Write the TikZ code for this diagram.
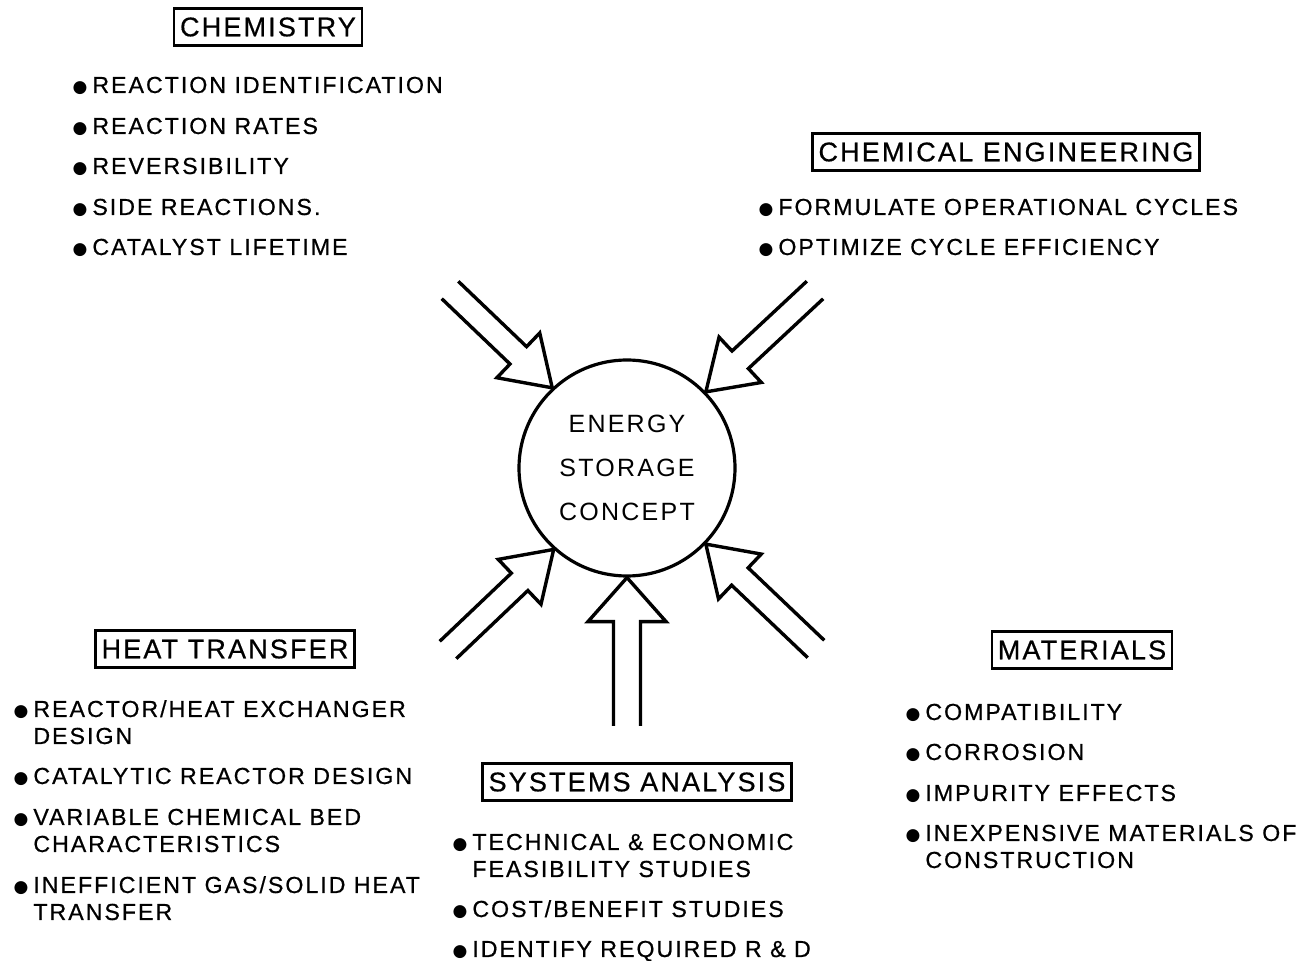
\documentclass[tikz,border=0pt]{standalone}
\usepackage{fontspec}
\setmainfont{Liberation Sans}
\newfontfamily\trackfont{Liberation Sans}[LetterSpace=8.5, FakeBold=0.6]
\newfontfamily\headfont{Liberation Sans}[LetterSpace=8, FakeBold=0.6]
\newfontfamily\corefont{Liberation Sans}[LetterSpace=9]
\newfontfamily\dotfont{DejaVu Sans}
\usetikzlibrary{calc}

\newcommand{\bul}{\makebox[0pt][r]{{\dotfont\fontsize{8.5}{8.5}\selectfont ●}\hspace{2.5pt}}}
% hollow arrow: tail, tip, shaft half width, head half width, head length
\newcommand{\feedarrow}[5]{%
  \path ($(#2)!#5!(#1)$) coordinate (hb);
  \draw[feed] ($(#1)!#3!90:(#2)$) -- ($(hb)!#3!90:(#2)$) -- ($(hb)!#4!90:(#2)$) -- (#2)
    -- ($(hb)!#4!-90:(#2)$) -- ($(hb)!#3!-90:(#2)$) -- ($(#1)!#3!-90:(#2)$);
}

\begin{document}
\begin{tikzpicture}[
  x=0.5pt, y=-0.5pt,
  head/.style={draw, line width=1.2pt, font=\headfont\fontsize{13.5}{15}\selectfont, minimum height=18.5pt, inner xsep=3pt, inner ysep=0pt},
  item/.style={anchor=base west, align=left, inner sep=0pt, font=\trackfont\fontsize{11.6}{13.5}\selectfont},
  core/.style={circle, draw, line width=1.6pt, minimum size=108pt, inner sep=0pt, align=center, font=\corefont\fontsize{12.5}{22}\selectfont},
  feed/.style={line width=1.7pt, line join=miter}
]
\useasboundingbox (0,0) rectangle (1307,961);

\node[core] (core) at (627,468) {ENERGY\\STORAGE\\CONCEPT};

% chemistry
\node[head] (chem) at (268,27) {CHEMISTRY};
\node[item] (c1) at (92,93) {\bul REACTION IDENTIFICATION};
\node[item] (c2) at (92,134) {\bul REACTION RATES};
\node[item] (c3) at (92,174) {\bul REVERSIBILITY};
\node[item] (c4) at (92,215) {\bul SIDE REACTIONS.};
\node[item] (c5) at (92,255) {\bul CATALYST LIFETIME};

% chemical engineering
\node[head] (cheng) at (1006,152) {CHEMICAL ENGINEERING};
\node[item] (e1) at (778,215) {\bul FORMULATE OPERATIONAL CYCLES};
\node[item] (e2) at (778,255) {\bul OPTIMIZE CYCLE EFFICIENCY};

% heat transfer (two-line items sit on their last baseline)
\node[head] (heat) at (225,649) {HEAT TRANSFER};
\node[item] (h1) at (33,744) {\bul REACTOR/HEAT EXCHANGER\\DESIGN};
\node[item] (h2) at (33,784) {\bul CATALYTIC REACTOR DESIGN};
\node[item] (h3) at (33,852) {\bul VARIABLE CHEMICAL BED\\CHARACTERISTICS};
\node[item] (h4) at (33,920) {\bul INEFFICIENT GAS/SOLID HEAT\\TRANSFER};

% systems analysis
\node[head] (sys) at (637,782) {SYSTEMS ANALYSIS};
\node[item] (s1) at (472,877) {\bul TECHNICAL \& ECONOMIC\\FEASIBILITY STUDIES};
\node[item] (s2) at (472,917) {\bul COST/BENEFIT STUDIES};
\node[item] (s3) at (472,957) {\bul IDENTIFY REQUIRED R \& D};

% materials
\node[head] (mat) at (1082,650) {MATERIALS};
\node[item] (m1) at (925,720) {\bul COMPATIBILITY};
\node[item] (m2) at (925,760) {\bul CORROSION};
\node[item] (m3) at (925,801) {\bul IMPURITY EFFECTS};
\node[item] (m4) at (925,868) {\bul INEXPENSIVE MATERIALS OF\\CONSTRUCTION};

% arrows into the concept
\coordinate (tl) at (450,290);
\coordinate (tr) at (815,290);
\coordinate (bl) at (448,650);
\coordinate (br) at (816,649);
\coordinate (bt) at (627,726);
\foreach \t/\a in {tl/133, tr/44, bl/228, br/316}
  \feedarrow{\t}{core.\a}{6pt}{15.5pt}{23.5pt};
\feedarrow{bt}{core.270}{6.75pt}{19.5pt}{22pt}
\end{tikzpicture}
\end{document}
